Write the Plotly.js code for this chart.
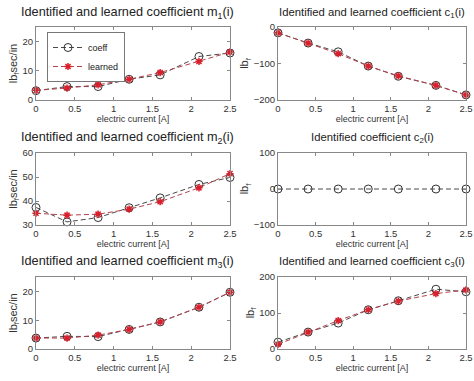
<!DOCTYPE html>
<html>
<head>
<meta charset="utf-8">
<script src="https://cdn.plot.ly/plotly-3.0.1.min.js"></script>
<style>html,body{margin:0;padding:0;background:#fff;}#chart{width:474px;height:381px;}</style>
</head>
<body>
<div id="chart"></div>
<script>
const current = [0, 0.4, 0.8, 1.2, 1.6, 2.1, 2.5];

const m1Coeff   = [3.2, 4.6, 4.6, 7.1, 8.6, 14.9, 16.1];
const m1Learned = [3.3, 4.1, 5.2, 7.1, 9.4, 13.2, 16.4];

const c1Coeff   = [-16, -44, -68, -107, -135, -160, -186];
const c1Learned = [-16, -44, -73, -107, -134, -160, -186];

const m2Coeff   = [37.3, 31.3, 33.1, 37.2, 41.3, 46.9, 49.8];
const m2Learned = [34.9, 34.1, 34.5, 36.6, 39.7, 45.5, 51.4];

const c2Coeff   = [0, 0, 0, 0, 0, 0, 0];

const m3Coeff   = [3.8, 4.4, 4.3, 6.8, 9.4, 14.5, 19.7];
const m3Learned = [3.8, 3.8, 4.8, 6.8, 9.4, 14.5, 19.7];

const c3Coeff   = [19, 47, 72, 109, 134, 166, 159];
const c3Learned = [13, 47, 79, 109, 133, 154, 164];

const titles = [
  'Identified and learned coefficient m<sub>1</sub>(i)',
  'Identified and learned coefficient c<sub>1</sub>(i)',
  'Identified and learned coefficient m<sub>2</sub>(i)',
  'Identified coefficient c<sub>2</sub>(i)',
  'Identified and learned coefficient m<sub>3</sub>(i)',
  'Identified and learned coefficient c<sub>3</sub>(i)'
];
const yTitles = ['lb<sub>f</sub>sec/in', 'lb<sub>f</sub>', 'lb<sub>f</sub>sec/in', 'lb<sub>f</sub>', 'lb<sub>f</sub>sec/in', 'lb<sub>f</sub>'];
const xTitle = 'electric current [A]';
const yRanges = [[0, 25], [-200, 0], [30, 60], [-100, 100], [0, 25], [0, 200]];
const yDticks = [10, 100, 10, 100, 10, 100];

const coeffSets = [m1Coeff, c1Coeff, m2Coeff, c2Coeff, m3Coeff, c3Coeff];
const learnedSets = [m1Learned, c1Learned, m2Learned, null, m3Learned, c3Learned];

const W = 474, H = 381;
const colX = [[36, 230], [278, 466]];
const rowY = [[27, 100], [153, 225], [277, 349]];
const titleY = [13, 138, 262];
const titleCenterX = [128, 372];
const titleSize = [12.7, 11.3];

const coeffLine = '#4a4a4a';
const learnedLine = '#b8404c';
const learnedMarker = '#d8202c';

const traces = [];
const layout = {
  width: W, height: H,
  margin: {l: 0, r: 0, t: 0, b: 0},
  paper_bgcolor: '#fff', plot_bgcolor: '#fff',
  font: {family: 'Liberation Sans, Arial, sans-serif', color: '#222'},
  showlegend: true,
  legend: {
    x: 47 / W, y: 1 - 32 / H, xanchor: 'left', yanchor: 'top',
    bgcolor: '#fff', bordercolor: '#777', borderwidth: 1,
    font: {size: 9, color: '#222'},
    tracegroupgap: 0, itemwidth: 30
  },
  annotations: []
};

for (let i = 0; i < 6; i++) {
  const col = i % 2, row = Math.floor(i / 2);
  const n = i === 0 ? '' : String(i + 1);
  const xa = 'x' + n, ya = 'y' + n;
  const axCommon = {
    showline: true, mirror: 'ticks', linecolor: '#888', linewidth: 1,
    ticks: 'inside', ticklen: 3, tickcolor: '#888',
    showgrid: false, zeroline: false,
    tickfont: {size: 9.5, color: '#333'},
    ticklabeloverflow: 'allow'
  };
  layout['xaxis' + n] = Object.assign({}, axCommon, {
    domain: [colX[col][0] / W, colX[col][1] / W],
    anchor: ya, range: [0, 2.5], dtick: 0.5, tickformat: '~g',
    title: {text: xTitle, font: {size: 9, color: '#333'}, standoff: 2}
  });
  layout['yaxis' + n] = Object.assign({}, axCommon, {
    domain: [1 - rowY[row][1] / H, 1 - rowY[row][0] / H],
    anchor: xa, range: yRanges[i], dtick: yDticks[i],
    title: {text: yTitles[i], font: {size: 11, color: '#333'}, standoff: 2}
  });
  layout.annotations.push({
    text: titles[i], xref: 'paper', yref: 'paper',
    x: titleCenterX[col] / W, y: 1 - titleY[row] / H,
    xanchor: 'center', yanchor: 'middle', showarrow: false,
    font: {size: titleSize[col], color: '#222'}
  });
  traces.push({
    x: current, y: coeffSets[i], xaxis: xa, yaxis: ya, type: 'scatter',
    mode: 'lines+markers', name: 'coeff', showlegend: i === 0,
    line: {color: coeffLine, width: 1, dash: '5px,3px'},
    marker: {symbol: 'circle-open', size: 8, color: '#333', line: {width: 1}},
    cliponaxis: false
  });
  if (learnedSets[i]) {
    traces.push({
      x: current, y: learnedSets[i], xaxis: xa, yaxis: ya, type: 'scatter',
      mode: 'lines+markers', name: 'learned', showlegend: i === 0,
      line: {color: learnedLine, width: 1, dash: '5px,3px'},
      marker: {symbol: 'asterisk-open', size: 6, color: learnedMarker, line: {width: 1.5, color: learnedMarker}},
      cliponaxis: false
    });
  }
}

Plotly.newPlot('chart', traces, layout, {displayModeBar: false, staticPlot: true});
</script>
</body>
</html>
